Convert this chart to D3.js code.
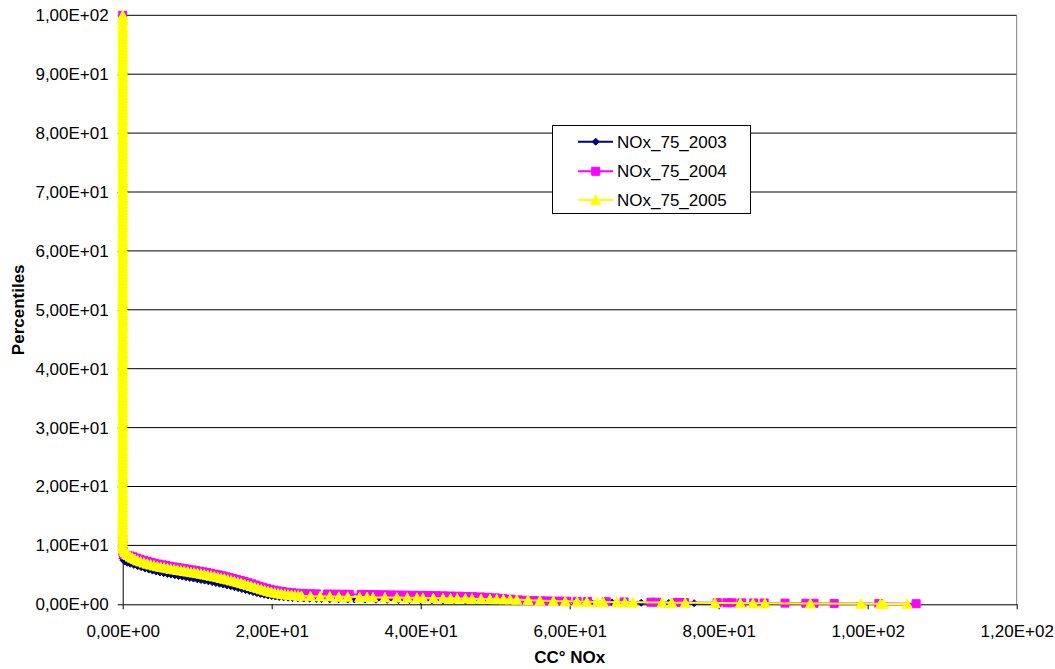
<!DOCTYPE html>
<html>
<head>
<meta charset="utf-8">
<script src="https://cdn.jsdelivr.net/npm/d3@7"></script>
<style>
  body { margin: 0; background: #fff; }
  svg text { font-family: "Liberation Sans", Arial, sans-serif; fill: #000; }
</style>
</head>
<body>
<svg id="chart" width="1055" height="669"></svg>
<script>
// axis ticks
const xTicks = [0, 20, 40, 60, 80, 100, 120];
const xTickLabels = ["0,00E+00", "2,00E+01", "4,00E+01", "6,00E+01", "8,00E+01", "1,00E+02", "1,20E+02"];
const yTicks = [0, 10, 20, 30, 40, 50, 60, 70, 80, 90, 100];
const yTickLabels = ["0,00E+00", "1,00E+01", "2,00E+01", "3,00E+01", "4,00E+01", "5,00E+01",
  "6,00E+01", "7,00E+01", "8,00E+01", "9,00E+01", "1,00E+02"];

const seriesNames = ["NOx_75_2003", "NOx_75_2004", "NOx_75_2005"];

// NOx_75_2003 : concentration (x) / percentile (y)
const nox2003 = [
  0, 0, 0, 0, 0,
  0.1, 0.3, 0.6, 1.0, 1.5, 2.0, 2.5, 3.0, 3.5, 4.0,
  4.5, 5.0, 5.5, 6.0, 6.5, 7.0, 7.5, 8.0, 8.5, 9.0,
  9.5, 10.0, 10.5, 11.0, 11.5, 12.0, 12.5, 13.0, 13.5, 14.0,
  14.5, 15.0, 15.5, 16.0, 16.5, 17.0, 17.5, 18.0, 18.5, 19.0,
  19.5, 20.0, 20.5, 21.0, 21.6, 22.2, 22.8, 23.5, 24.3, 25.1,
  26.0, 26.7, 27.8, 29.0, 30.2, 31.1, 32.5, 34.0, 35.5, 37.0,
  38.5, 40.0, 41.5, 43.0, 44.5, 46.0, 47.5, 49.0, 50.5, 52.0,
  53.2, 54.4, 56.5, 58.6, 60.7, 62.8, 65.7, 69.6, 70.9, 73.3,
  76.7, 81.4
];
const pct2003 = [
  100, 10, 9, 8.3, 7.8,
  7.5, 7.25, 7.05, 6.88, 6.68, 6.48, 6.28, 6.08, 5.9, 5.73,
  5.57, 5.42, 5.29, 5.16, 5.04, 4.92, 4.81, 4.7, 4.59, 4.48,
  4.37, 4.26, 4.14, 4.02, 3.9, 3.77, 3.63, 3.49, 3.35, 3.2,
  3.05, 2.9, 2.74, 2.58, 2.41, 2.24, 2.07, 1.91, 1.76, 1.63,
  1.51, 1.41, 1.32, 1.25, 1.18, 1.12, 1.07, 1.03, 0.99, 0.95,
  0.92, 0.9, 0.87, 0.85, 0.83, 0.82, 0.8, 0.78, 0.76, 0.74,
  0.72, 0.7, 0.68, 0.66, 0.64, 0.62, 0.6, 0.58, 0.56, 0.54,
  0.52, 0.5, 0.45, 0.42, 0.38, 0.35, 0.3, 0.26, 0.25, 0.22,
  0.19, 0.15
];

// NOx_75_2004
const nox2004 = [
  0, 0, 0, 0,
  0.02, 0.06, 0.15, 0.35, 0.65, 1.0, 1.4, 1.85, 2.3, 2.8,
  3.3, 3.8, 4.3, 4.8, 5.3, 5.8, 6.3, 6.8, 7.3, 7.8,
  8.3, 8.8, 9.3, 9.8, 10.3, 10.8, 11.3, 11.8, 12.3, 12.8,
  13.3, 13.8, 14.3, 14.8, 15.3, 15.8, 16.3, 16.8, 17.3, 17.8,
  18.3, 18.8, 19.3, 19.8, 20.3, 20.8, 21.4, 22.0, 22.7, 23.4,
  24.2, 25.1, 26.0, 27.5, 28.5, 29.5, 30.4, 32.0, 33.0, 34.0,
  35.0, 36.0, 37.0, 38.0, 39.0, 40.0, 41.0, 42.0, 43.0, 44.0,
  45.0, 46.0, 47.0, 48.0, 49.0, 50.0, 51.0, 52.0, 53.0, 54.0,
  55.1, 56.2, 57.3, 58.5, 59.6, 61.0, 62.4, 64.9, 67.3, 70.9,
  71.7, 74.4, 75.4, 79.8, 81.1, 81.8, 83.1, 84.7, 86.1, 88.9,
  91.7, 92.8, 95.5, 101.5, 106.5
];
const pct2004 = [
  100, 11, 10, 9.5,
  9.1, 8.75, 8.5, 8.35, 8.27, 8.2, 8.05, 7.85, 7.65, 7.47,
  7.3, 7.12, 6.97, 6.83, 6.7, 6.58, 6.46, 6.35, 6.25, 6.15,
  6.04, 5.94, 5.84, 5.73, 5.62, 5.51, 5.38, 5.26, 5.13, 5.0,
  4.85, 4.69, 4.54, 4.38, 4.21, 4.04, 3.86, 3.67, 3.48, 3.28,
  3.08, 2.88, 2.7, 2.54, 2.4, 2.28, 2.17, 2.06, 1.96, 1.89,
  1.83, 1.8, 1.77, 1.75, 1.73, 1.71, 1.7, 1.68, 1.66, 1.64,
  1.62, 1.6, 1.58, 1.56, 1.54, 1.52, 1.5, 1.47, 1.44, 1.41,
  1.38, 1.34, 1.3, 1.25, 1.18, 1.1, 1.0, 0.88, 0.76, 0.68,
  0.63, 0.6, 0.57, 0.55, 0.53, 0.5, 0.48, 0.44, 0.4, 0.36,
  0.35, 0.32, 0.31, 0.27, 0.26, 0.25, 0.24, 0.23, 0.22, 0.2,
  0.18, 0.17, 0.15, 0.12, 0.1
];

// NOx_75_2005
const nox2005 = [
  0, 0, 0, 0, 0, 0, 0, 0, 0, 0, 0, 0, 0, 0, 0, 0, 0, 0, 0, 0,
  0, 0, 0, 0, 0, 0, 0, 0, 0, 0, 0, 0, 0, 0, 0, 0, 0, 0, 0, 0,
  0, 0, 0, 0, 0, 0, 0, 0, 0, 0, 0, 0, 0, 0, 0, 0, 0, 0, 0, 0,
  0, 0, 0, 0, 0, 0, 0, 0, 0, 0, 0, 0, 0, 0, 0, 0, 0, 0, 0, 0,
  0, 0, 0, 0, 0, 0, 0, 0, 0, 0, 0, 0, 0, 0, 0, 0, 0, 0, 0, 0,
  0, 0, 0, 0, 0, 0, 0, 0, 0, 0, 0, 0, 0, 0, 0, 0, 0, 0, 0, 0,
  0, 0, 0, 0, 0, 0, 0, 0, 0, 0, 0, 0, 0, 0, 0, 0, 0, 0, 0, 0,
  0, 0, 0, 0, 0, 0, 0, 0, 0, 0, 0, 0, 0, 0, 0, 0, 0, 0, 0, 0,
  0, 0, 0, 0, 0, 0, 0, 0, 0, 0, 0, 0, 0, 0, 0, 0, 0, 0, 0, 0,
  0, 0.02, 0.08, 0.15, 0.25, 0.38, 0.55, 0.75, 1.0, 1.3,
  1.65, 2.0, 2.4, 2.85, 3.3, 3.75, 4.2, 4.65, 5.1, 5.55,
  6.0, 6.45, 6.9, 7.35, 7.8, 8.25, 8.7, 9.15, 9.6, 10.05,
  10.5, 10.95, 11.4, 11.85, 12.3, 12.75, 13.2, 13.65, 14.1, 14.55,
  15.0, 15.45, 15.9, 16.35, 16.8, 17.25, 17.7, 18.15, 18.6, 19.05,
  19.5, 19.95, 20.4, 20.85, 21.3, 21.75, 22.2, 22.65, 23.1, 23.55,
  24.0,
  25.2, 26.5, 27.8, 29.0, 30.2, 31.8, 32.8, 33.6, 35.2, 36.8,
  38.2, 39.5, 40.3, 41.7, 43.0, 44.0, 44.9, 46.0, 46.9, 48.1,
  49.3, 50.2, 51.1, 52.0, 52.9, 54.4, 56.0, 57.8, 59.4, 61.0,
  62.3, 63.7, 64.5, 66.3, 67.4, 68.5, 72.4, 73.7, 75.5, 79.5,
  82.9, 84.6, 86.2, 92.3, 99.1, 101.7, 102.1, 105.3
];
const pct2005 = [
  100, 99.5, 99, 98.5, 98, 97.5, 97, 96.5, 96, 95.5, 95, 94.5, 94, 93.5, 93, 92.5, 92, 91.5, 91, 90.5,
  90, 89.5, 89, 88.5, 88, 87.5, 87, 86.5, 86, 85.5, 85, 84.5, 84, 83.5, 83, 82.5, 82, 81.5, 81, 80.5,
  80, 79.5, 79, 78.5, 78, 77.5, 77, 76.5, 76, 75.5, 75, 74.5, 74, 73.5, 73, 72.5, 72, 71.5, 71, 70.5,
  70, 69.5, 69, 68.5, 68, 67.5, 67, 66.5, 66, 65.5, 65, 64.5, 64, 63.5, 63, 62.5, 62, 61.5, 61, 60.5,
  60, 59.5, 59, 58.5, 58, 57.5, 57, 56.5, 56, 55.5, 55, 54.5, 54, 53.5, 53, 52.5, 52, 51.5, 51, 50.5,
  50, 49.5, 49, 48.5, 48, 47.5, 47, 46.5, 46, 45.5, 45, 44.5, 44, 43.5, 43, 42.5, 42, 41.5, 41, 40.5,
  40, 39.5, 39, 38.5, 38, 37.5, 37, 36.5, 36, 35.5, 35, 34.5, 34, 33.5, 33, 32.5, 32, 31.5, 31, 30.5,
  30, 29.5, 29, 28.5, 28, 27.5, 27, 26.5, 26, 25.5, 25, 24.5, 24, 23.5, 23, 22.5, 22, 21.5, 21, 20.5,
  20, 19.5, 19, 18.5, 18, 17.5, 17, 16.5, 16, 15.5, 15, 14.5, 14, 13.5, 13, 12.5, 12, 11.5, 11, 10.5,
  10, 9.8, 9.55, 9.3, 9.05, 8.8, 8.57, 8.36, 8.1, 7.9,
  7.67, 7.45, 7.27, 7.08, 6.9, 6.74, 6.6, 6.47, 6.35, 6.24,
  6.13, 6.03, 5.93, 5.84, 5.75, 5.65, 5.56, 5.47, 5.38, 5.28,
  5.18, 5.07, 4.96, 4.85, 4.73, 4.61, 4.48, 4.34, 4.2, 4.06,
  3.91, 3.76, 3.6, 3.44, 3.27, 3.1, 2.92, 2.74, 2.56, 2.39,
  2.23, 2.09, 1.97, 1.87, 1.78, 1.7, 1.63, 1.57, 1.52, 1.48,
  1.44,
  1.38, 1.33, 1.34, 1.28, 1.27, 1.22, 1.24, 1.19, 1.17, 1.15,
  1.12, 1.1, 1.08, 1.05, 1.03, 1.0, 0.99, 0.97, 0.95, 0.92,
  0.9, 0.87, 0.85, 0.82, 0.78, 0.72, 0.62, 0.55, 0.5, 0.46,
  0.43, 0.41, 0.38, 0.36, 0.34, 0.33, 0.3, 0.28, 0.26, 0.22,
  0.2, 0.18, 0.16, 0.14, 0.1, 0.08, 0.07, 0.05
];

const colors = ["#000080", "#ff00ff", "#ffff00"];
const markers = [
  "M0,-3.5L3.5,0L0,3.5L-3.5,0Z",      // diamond
  "M-4,-4L4,-4L4,4L-4,4Z",            // square
  "M0,-5L5,4.5L-5,4.5Z"               // triangle
];

const series = [
  {name: seriesNames[0], xs: nox2003, ys: pct2003},
  {name: seriesNames[1], xs: nox2004, ys: pct2004},
  {name: seriesNames[2], xs: nox2005, ys: pct2005}
];

const svg = d3.select("#chart");

const x = d3.scaleLinear().domain([0, 120]).range([122.7, 1016.7]);
const y = d3.scaleLinear().domain([0, 100]).range([604.3, 15.3]);

// gridlines
svg.append("g")
  .selectAll("line")
  .data(yTicks.slice(1))
  .join("line")
  .attr("x1", x(0)).attr("x2", x(120))
  .attr("y1", d => y(d)).attr("y2", d => y(d))
  .attr("stroke", "#000");

// right border of plot area
svg.append("line")
  .attr("x1", x(120)).attr("x2", x(120))
  .attr("y1", y(0)).attr("y2", y(100))
  .attr("stroke", "#808080");

svg.append("g")
  .attr("transform", "translate(" + x(0) + ",0)")
  .call(d3.axisLeft(y).tickValues(yTicks).tickSize(5).tickSizeOuter(0).tickPadding(9)
    .tickFormat((d, i) => yTickLabels[i]));

svg.append("g")
  .attr("transform", "translate(0," + y(0) + ")")
  .call(d3.axisBottom(x).tickValues(xTicks).tickSize(5).tickSizeOuter(0).tickPadding(16)
    .tickFormat((d, i) => xTickLabels[i]));

svg.selectAll(".domain, .tick line").attr("stroke", "#000");
svg.selectAll(".tick text").style("font-size", "17px");

// series: line then markers, 2003 first so 2005 ends on top
const line = d3.line().x(d => x(d[0])).y(d => y(d[1]));

series.forEach((s, i) => {
  const pts = s.xs.map((v, j) => [v, s.ys[j]]);
  svg.append("path")
    .datum(pts)
    .attr("d", line)
    .attr("fill", "none")
    .attr("stroke", colors[i])
    .attr("stroke-width", 2);
  svg.append("g")
    .selectAll("path")
    .data(pts)
    .join("path")
    .attr("transform", d => "translate(" + x(d[0]) + "," + y(d[1]) + ")")
    .attr("d", markers[i])
    .attr("fill", colors[i])
    .attr("stroke", colors[i])
    .attr("stroke-width", 1);
});

// legend
const legend = svg.append("g");
legend.append("rect")
  .attr("x", 552.5).attr("y", 125.5)
  .attr("width", 198).attr("height", 88)
  .attr("fill", "#fff")
  .attr("stroke", "#000");

const rowY = [141.7, 171.3, 200];
series.forEach((s, i) => {
  const g = legend.append("g").attr("transform", "translate(0," + rowY[i] + ")");
  g.append("line")
    .attr("x1", 578).attr("x2", 613)
    .attr("stroke", colors[i]).attr("stroke-width", 2);
  g.append("path")
    .attr("transform", "translate(595.7,0)")
    .attr("d", markers[i])
    .attr("fill", colors[i]).attr("stroke", colors[i]);
  g.append("text")
    .attr("x", 617).attr("y", 6)
    .style("font-size", "17px")
    .text(s.name);
});

// axis titles
svg.append("text")
  .attr("x", 569.7).attr("y", 663)
  .attr("text-anchor", "middle")
  .style("font-size", "17px").style("font-weight", "bold")
  .text("CC° NOx");

svg.append("text")
  .attr("transform", "translate(24,309.8) rotate(-90)")
  .attr("text-anchor", "middle")
  .style("font-size", "17px").style("font-weight", "bold")
  .text("Percentiles");
</script>
</body>
</html>
